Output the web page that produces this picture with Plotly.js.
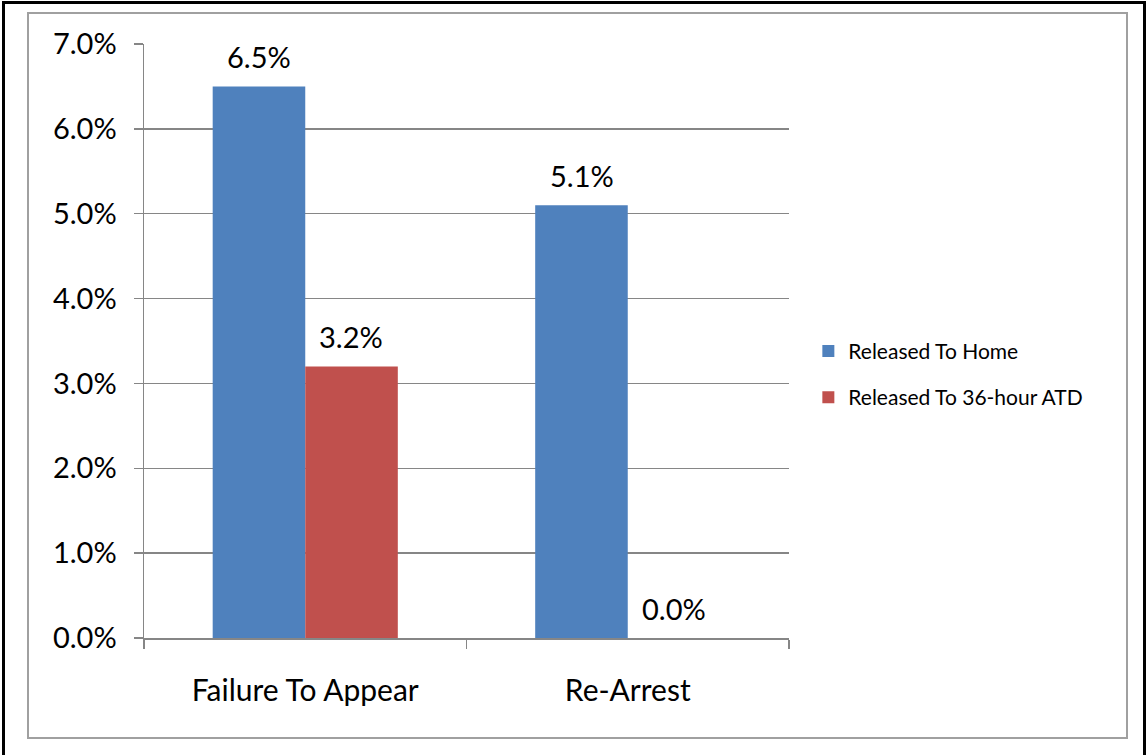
<!DOCTYPE html>
<html>
<head>
<meta charset="utf-8">
<script src="https://cdn.plot.ly/plotly-3.0.1.min.js"></script>
<style>
  html, body { margin: 0; padding: 0; background: #ffffff; }
  #wrap { position: relative; width: 1147px; height: 755px; overflow: hidden; }
  #outer { position: absolute; left: 2px; top: 1px; width: 1144px; height: 760px; border: 3px solid #000; box-sizing: border-box; }
  #inner { position: absolute; left: 27px; top: 12px; width: 1101px; height: 727px; border: 2px solid #a0a0a0; box-sizing: border-box; }
  #chart { position: absolute; left: 0; top: 0; width: 1147px; height: 755px; }
</style>
</head>
<body>
<div id="wrap">
  <div id="outer"></div>
  <div id="inner"></div>
  <div id="chart"></div>
</div>
<script>
const categories = ["Failure To Appear", "Re-Arrest"];
const seriesNames = ["Released To Home", "Released To 36-hour ATD"];
const releasedHome = [0.065, 0.051];
const releasedATD = [0.032, 0.0];
const yTickVals = [0, 0.01, 0.02, 0.03, 0.04, 0.05, 0.06, 0.07];
const yTickText = ["0.0%", "1.0%", "2.0%", "3.0%", "4.0%", "5.0%", "6.0%", "7.0%"];

const fontFam = "Lato, 'Open Sans', sans-serif";
const fmt = v => (v * 100).toFixed(1) + "%";

const traces = [
  {
    type: "bar", name: seriesNames[0], x: categories, y: releasedHome,
    marker: { color: "#4f81bd" },
    legendgroup: "a", hoverinfo: "none"
  },
  {
    type: "bar", name: seriesNames[1], x: categories, y: releasedATD,
    marker: { color: "#c0504d" },
    legendgroup: "b", hoverinfo: "none"
  }
];

// data labels positioned through the axes (category + value), shifted to each bar in its group
const groupShift = 46;
const annotations = [];
[releasedHome, releasedATD].forEach((series, si) => {
  series.forEach((v, ci) => {
    annotations.push({
      xref: "x", yref: "y", x: categories[ci], y: v,
      xshift: si === 0 ? -groupShift : groupShift,
      yshift: 10, yanchor: "bottom", xanchor: "center",
      showarrow: false, text: fmt(v),
      font: { family: fontFam, size: 29, color: "#000" }
    });
  });
});

const layout = {
  width: 1147, height: 755,
  margin: { l: 144, r: 358, t: 44, b: 117 },
  paper_bgcolor: "rgba(0,0,0,0)", plot_bgcolor: "rgba(0,0,0,0)",
  barmode: "group", bargap: 0.426, bargroupgap: 0,
  font: { family: fontFam, color: "#000" },
  showlegend: true,
  annotations: annotations,
  legend: {
    x: 1.03, xanchor: "left", y: 0.444, yanchor: "middle",
    font: { family: fontFam, size: 21, color: "#000" },
    traceorder: "grouped", tracegroupgap: 16,
    itemwidth: 30, bgcolor: "rgba(0,0,0,0)"
  },
  xaxis: {
    type: "category", showgrid: false,
    showline: true, linecolor: "#868686", linewidth: 1.5,
    ticks: "outside", tickson: "boundaries", ticklen: 9, tickcolor: "#868686", tickwidth: 1.5,
    tickfont: { family: fontFam, size: 30, color: "#000" },
    ticklabelstandoff: 25,
    zeroline: false
  },
  yaxis: {
    range: [0, 0.07],
    tickvals: yTickVals, ticktext: yTickText,
    showgrid: true, gridcolor: "#868686", gridwidth: 1.5,
    showline: true, linecolor: "#868686", linewidth: 1.5,
    ticks: "outside", ticklen: 9, tickcolor: "#868686", tickwidth: 1.5,
    tickfont: { family: fontFam, size: 29, color: "#000" },
    ticklabelstandoff: 11,
    zeroline: false
  }
};

Plotly.newPlot("chart", traces, layout, { displayModeBar: false, staticPlot: true });
</script>
</body>
</html>
